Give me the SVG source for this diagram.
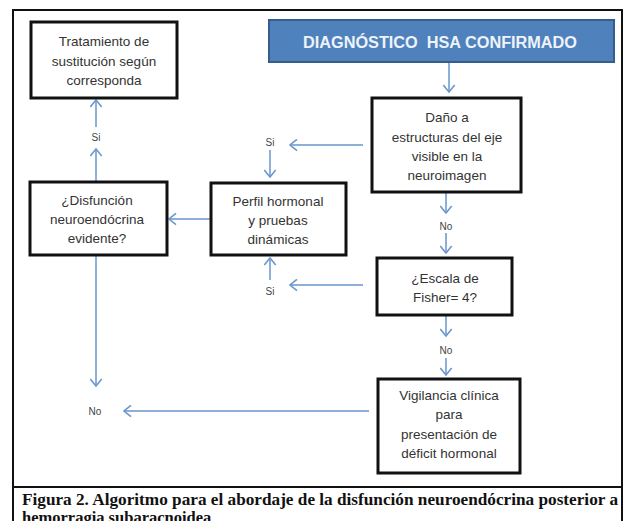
<svg xmlns="http://www.w3.org/2000/svg" width="626" height="521" viewBox="0 0 626 521">
<style>
.box{fill:#fff;stroke:#111;stroke-width:3}
.t{font-family:"Liberation Sans",Arial,sans-serif;font-size:13.5px;fill:#333;text-anchor:middle}
.lbl{font-family:"Liberation Sans",Arial,sans-serif;font-size:10px;fill:#444;text-anchor:middle}
.c{fill:none;stroke:#8cb0d8;stroke-width:2;marker-end:url(#arr)}
.cap{font-family:"Liberation Serif","Times New Roman",serif;font-size:16.5px;font-weight:bold;fill:#111}
</style>
<defs>
<marker id="arr" viewBox="0 0 9 13" refX="8" refY="6.5" markerWidth="9" markerHeight="13" markerUnits="userSpaceOnUse" orient="auto">
<path d="M1,0.8 L8,6.5 L1,12.2" fill="none" stroke="#6c98cc" stroke-width="1.6"/>
</marker>
</defs>
<rect x="0" y="0" width="626" height="521" fill="#fff"/>
<path d="M13,525 V10 H622 V525" fill="none" stroke="#111" stroke-width="2"/>
<line x1="13" y1="487" x2="622" y2="487" stroke="#111" stroke-width="2"/>

<g id="connectors">
<path class="c" d="M449,63 V92"/>
<path class="c" d="M363,145 H290"/>
<path class="c" d="M270,150 V177"/>
<path class="c" d="M211,219 H169"/>
<path class="c" d="M446,193 V213"/>
<path class="c" d="M446,233 V253"/>
<path class="c" d="M363,285 H290"/>
<path class="c" d="M270,280 V258"/>
<path class="c" d="M446,316 V336"/>
<path class="c" d="M446,358 V375"/>
<path class="c" d="M369,411 H124"/>
<path class="c" d="M96,256 V386"/>
<path class="c" d="M96,181 V149"/>
<path class="c" d="M96,127 V100"/>
<text class="lbl" x="96" y="141">Si</text>
<text class="lbl" x="270" y="146">Si</text>
<text class="lbl" x="270" y="295">Si</text>
<text class="lbl" x="446" y="230">No</text>
<text class="lbl" x="446" y="354">No</text>
<text class="lbl" x="95" y="415">No</text>
</g>

<g id="diagnostico">
<rect x="269" y="20" width="345" height="42" fill="#4f81bd" stroke="#385d8a" stroke-width="2"/>
<text x="440" y="48" font-family="Liberation Sans,Arial,sans-serif" font-size="16" font-weight="bold" fill="#eef3fa" text-anchor="middle" textLength="274" lengthAdjust="spacingAndGlyphs" xml:space="preserve">DIAGNÓSTICO  HSA CONFIRMADO</text>
</g>

<g id="tratamiento">
<rect class="box" x="31" y="22" width="146" height="76"/>
<text class="t" x="104" y="46">Tratamiento de</text>
<text class="t" x="104" y="66">sustitución según</text>
<text class="t" x="104" y="85">corresponda</text>
</g>

<g id="dano">
<rect class="box" x="372" y="98" width="149" height="94"/>
<text class="t" x="447" y="122">Daño a</text>
<text class="t" x="447" y="142">estructuras del eje</text>
<text class="t" x="447" y="161">visible en la</text>
<text class="t" x="447" y="180">neuroimagen</text>
</g>

<g id="perfil">
<rect class="box" x="211" y="183" width="135" height="72"/>
<text class="t" x="278" y="206">Perfil hormonal</text>
<text class="t" x="278" y="225">y pruebas</text>
<text class="t" x="278" y="244">dinámicas</text>
</g>

<g id="disfuncion">
<rect class="box" x="30" y="182" width="137" height="73"/>
<text class="t" x="97" y="205">¿Disfunción</text>
<text class="t" x="97" y="224">neuroendócrina</text>
<text class="t" x="97" y="243">evidente?</text>
</g>

<g id="escala">
<rect class="box" x="377" y="258" width="135" height="57"/>
<text class="t" x="445" y="283">¿Escala de</text>
<text class="t" x="445" y="302">Fisher= 4?</text>
</g>

<g id="vigilancia">
<rect class="box" x="378" y="379" width="142" height="94"/>
<text class="t" x="449" y="400">Vigilancia clínica</text>
<text class="t" x="449" y="419">para</text>
<text class="t" x="449" y="439">presentación de</text>
<text class="t" x="449" y="458">déficit hormonal</text>
</g>

<g id="caption">
<text class="cap" x="22" y="505" textLength="596" lengthAdjust="spacingAndGlyphs">Figura 2. Algoritmo para el abordaje de la disfunción neuroendócrina posterior a</text>
<text class="cap" x="22" y="523">hemorragia subaracnoidea</text>
</g>
</svg>
